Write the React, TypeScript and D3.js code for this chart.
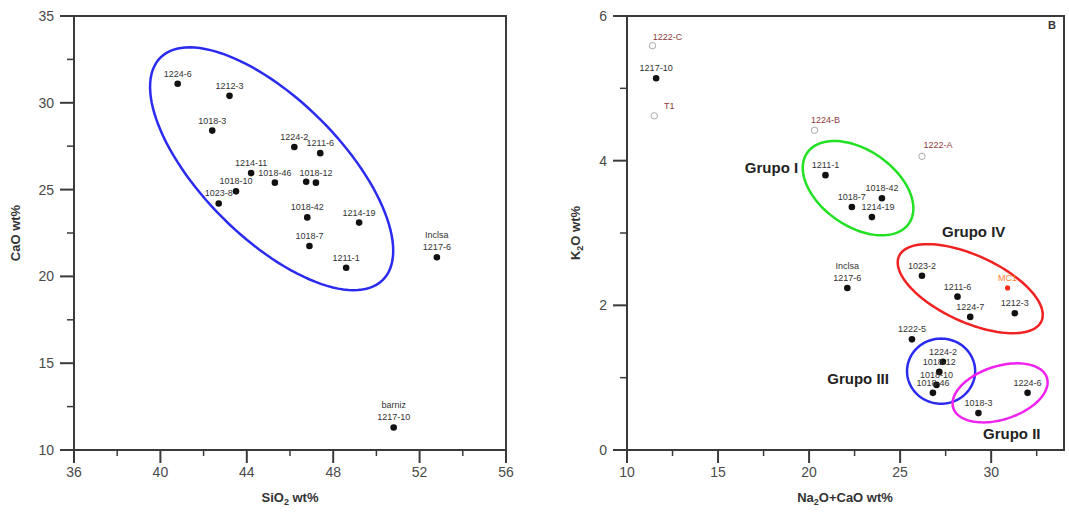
import React from 'react';
import * as d3 from 'd3';

// ---- panel A: SiO2 vs CaO ----
const leftLabels = ['1224-6', '1212-3', '1018-3', '1224-2', '1211-6', '1214-11', '1018-10', '1018-46', '', '1018-12', '1023-8', '1018-42', '1214-19', '1018-7', '1211-1', 'Inclsa|1217-6', 'barniz|1217-10'];
const leftSiO2 = [40.8, 43.2, 42.4, 46.2, 47.4, 44.2, 43.5, 45.3, 46.75, 47.2, 42.7, 46.8, 49.2, 46.9, 48.6, 52.8, 50.8];
const leftCaO = [31.1, 30.4, 28.4, 27.45, 27.1, 25.95, 24.9, 25.4, 25.45, 25.4, 24.2, 23.4, 23.1, 21.75, 20.5, 21.1, 11.3];

// ---- panel B: Na2O+CaO vs K2O ----
const rightLabels = ['1222-C', '1217-10', 'T1', '1224-B', '1222-A', '1211-1', '1018-42', '1018-7', '1214-19', 'Inclsa|1217-6', '1023-2', '1211-6', '1224-7', 'MC1', '1212-3', '1222-5', '1224-2', '1018-12', '1018-10', '1018-46', '1018-3', '1224-6'];
const rightNaCa = [11.4, 11.6, 11.5, 20.3, 26.2, 20.9, 24.0, 22.35, 23.45, 22.1, 26.2, 28.15, 28.85, 30.9, 31.3, 25.65, 27.35, 27.15, 27.0, 26.8, 29.3, 32.0];
const rightK2O = [5.59, 5.14, 4.62, 4.42, 4.06, 3.8, 3.48, 3.36, 3.22, 2.24, 2.41, 2.12, 1.84, 2.24, 1.89, 1.53, 1.22, 1.08, 0.9, 0.79, 0.51, 0.79];
const rightKind = ['open', 'dot', 'open', 'open', 'open', 'dot', 'dot', 'dot', 'dot', 'dot', 'dot', 'dot', 'dot', 'mc', 'dot', 'dot', 'dot', 'dot', 'dot', 'dot', 'dot', 'dot'];

// label shifts (px) for a few labels that sit beside their marker
const labelShift: Record<string, [number, number]> = {
  '1222-C': [15, -6],
  'T1': [15, -7],
  '1224-B': [11, -7],
  '1222-A': [16, -8],
  '1214-19': [6, -7],
};

// group ellipses: center and two semi-axis vectors, in data units
const leftEllipse = { c: [45.15, 26.2], u: [5.15, -6.4], v: [-2.27, -2.82], color: '#2b2bf0' };
const rightEllipses = [
  { c: [22.69, 3.62], u: [2.79, -0.49], v: [-1.2, -0.43], color: '#22e022' },
  { c: [28.85, 2.23], u: [3.91, -0.45], v: [-0.76, -0.42], color: '#f02222' },
  { c: [27.25, 1.09], u: [1.87, 0], v: [0, 0.45], color: '#2b2bf0' },
  { c: [30.49, 0.79], u: [2.57, 0.21], v: [0.45, -0.35], color: '#f022f0' },
];
const groupNames = ['Grupo I', 'Grupo IV', 'Grupo III', 'Grupo II'];
const groupX = [19.4, 27.3, 21.0, 29.55];
const groupY = [3.83, 2.94, 0.91, 0.15];
const groupAnchor = ['end', 'start', 'start', 'start'];

const FONT = '"Liberation Sans", Arial, sans-serif';
const AXIS = '#3a3a3a';

type Panel = {
  x: d3.ScaleLinear<number, number>;
  y: d3.ScaleLinear<number, number>;
  xMajor: number[];
  xMinor: number[];
  yMajor: number[];
  yMinor: number[];
};

const Frame = ({ p }: { p: Panel }) => {
  const [x0, x1] = p.x.range();
  const [y0, y1] = p.y.range();
  return (
    <g stroke={AXIS} fill="none">
      <rect x={x0} y={y1} width={x1 - x0} height={y0 - y1} strokeWidth={2} />
      {p.xMajor.map(t => <line key={'xM' + t} x1={p.x(t)} x2={p.x(t)} y1={y0} y2={y0 + 13} strokeWidth={2} />)}
      {p.xMinor.map(t => <line key={'xm' + t} x1={p.x(t)} x2={p.x(t)} y1={y0} y2={y0 + 6} strokeWidth={1.5} />)}
      {p.yMajor.map(t => <line key={'yM' + t} x1={x0 - 14} x2={x0} y1={p.y(t)} y2={p.y(t)} strokeWidth={2} />)}
      {p.yMinor.map(t => <line key={'ym' + t} x1={x0 - 7} x2={x0} y1={p.y(t)} y2={p.y(t)} strokeWidth={1.5} />)}
      <g fill="#4a4a4a" stroke="none" fontFamily={FONT} fontSize={14}>
        {p.xMajor.map(t => <text key={'xt' + t} x={p.x(t)} y={y0 + 27} textAnchor="middle">{t}</text>)}
        {p.yMajor.map(t => <text key={'yt' + t} x={x0 - 20} y={p.y(t) + 5} textAnchor="end">{t}</text>)}
      </g>
    </g>
  );
};

const ellipsePath = (e: { c: number[]; u: number[]; v: number[] }, p: Panel) => {
  const pts = d3.range(0, 2 * Math.PI, Math.PI / 60).map(t => [
    p.x(e.c[0] + e.u[0] * Math.cos(t) + e.v[0] * Math.sin(t)),
    p.y(e.c[1] + e.u[1] * Math.cos(t) + e.v[1] * Math.sin(t)),
  ] as [number, number]);
  return d3.line().curve(d3.curveLinearClosed)(pts) || '';
};

const PointLabel = ({ x, y, label, color, shift }: { x: number; y: number; label: string; color: string; shift?: [number, number] }) => {
  const [dx, dy] = shift || [0, -7];
  const lines = label.split('|');
  return (
    <text x={x + dx} y={y + dy} textAnchor="middle" fontFamily={FONT} fontSize={9} fill={color}>
      {lines.map((l, i) => (
        <tspan key={i} x={x + dx} dy={i === 0 ? -(lines.length - 1) * 12 : 12}>{l}</tspan>
      ))}
    </text>
  );
};

export default function App() {
  const left: Panel = {
    x: d3.scaleLinear().domain([36, 56]).range([74, 506]),
    y: d3.scaleLinear().domain([10, 35]).range([450, 16]),
    xMajor: d3.range(36, 57, 4),
    xMinor: d3.range(38, 56, 4),
    yMajor: d3.range(10, 36, 5),
    yMinor: d3.range(12.5, 35, 5),
  };
  const right: Panel = {
    x: d3.scaleLinear().domain([10, 34]).range([627, 1064]),
    y: d3.scaleLinear().domain([0, 6]).range([450, 16]),
    xMajor: d3.range(10, 31, 5),
    xMinor: d3.range(12.5, 34, 5),
    yMajor: d3.range(0, 7, 2),
    yMinor: d3.range(1, 6, 2),
  };

  return (
    <svg width={1069} height={515} style={{ position: 'absolute', left: 0, top: 0, background: '#fff' }}>
      <Frame p={left} />
      <Frame p={right} />

      {/* axis titles */}
      <g fontFamily={FONT} fontSize={13} fontWeight="bold" fill="#333">
        <text x={290} y={502} textAnchor="middle">SiO<tspan fontSize={9} dy={3}>2</tspan><tspan dy={-3}> wt%</tspan></text>
        <text transform="translate(20,233) rotate(-90)" textAnchor="middle">CaO wt%</text>
        <text x={845} y={502} textAnchor="middle">Na<tspan fontSize={9} dy={3}>2</tspan><tspan dy={-3}>O+CaO wt%</tspan></text>
        <text transform="translate(580,233) rotate(-90)" textAnchor="middle">K<tspan fontSize={9} dy={3}>2</tspan><tspan dy={-3}>O wt%</tspan></text>
        <text x={1052} y={29} fontSize={11} textAnchor="middle">B</text>
      </g>

      {/* ellipses */}
      <path d={ellipsePath(leftEllipse, left)} fill="none" stroke={leftEllipse.color} strokeWidth={2.5} />
      {rightEllipses.map((e, i) => (
        <path key={i} d={ellipsePath(e, right)} fill="none" stroke={e.color} strokeWidth={2.5} />
      ))}

      {/* panel A points */}
      {leftLabels.map((l, i) => (
        <g key={'L' + i}>
          <circle cx={left.x(leftSiO2[i])} cy={left.y(leftCaO[i])} r={3.3} fill="#111" />
          {l && <PointLabel x={left.x(leftSiO2[i])} y={left.y(leftCaO[i])} label={l} color="#333" />}
        </g>
      ))}

      {/* panel B points */}
      {rightLabels.map((l, i) => {
        const cx = right.x(rightNaCa[i]);
        const cy = right.y(rightK2O[i]);
        const kind = rightKind[i];
        return (
          <g key={'R' + i}>
            {kind === 'dot' && <circle cx={cx} cy={cy} r={3.3} fill="#111" />}
            {kind === 'open' && <circle cx={cx} cy={cy} r={3.2} fill="#fff" stroke="#a8a8a8" strokeWidth={1} />}
            {kind === 'mc' && <circle cx={cx} cy={cy} r={2.6} fill="#ff2a1a" />}
            <PointLabel x={cx} y={cy} label={l}
              color={kind === 'open' ? '#8e3b3b' : kind === 'mc' ? '#ff7f2a' : '#333'}
              shift={labelShift[l]} />
          </g>
        );
      })}

      {/* group names */}
      {groupNames.map((g, i) => (
        <text key={g} x={right.x(groupX[i])} y={right.y(groupY[i])} textAnchor={groupAnchor[i]}
          fontFamily={FONT} fontSize={15} fontWeight="bold" fill="#222">{g}</text>
      ))}
    </svg>
  );
}
